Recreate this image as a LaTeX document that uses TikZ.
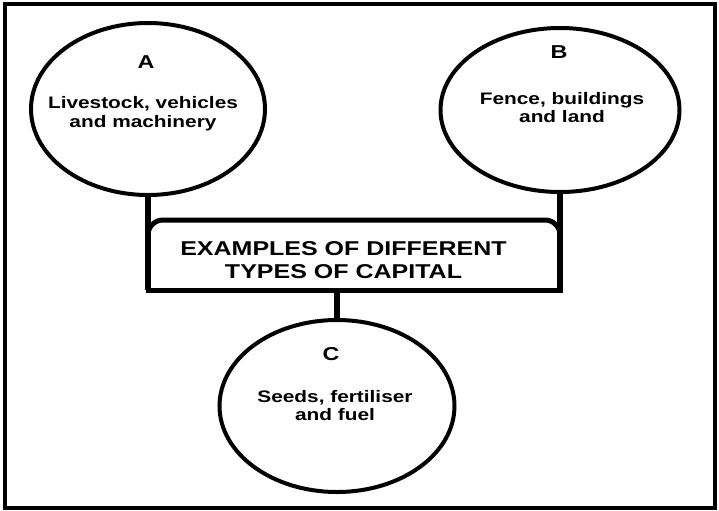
\documentclass[tikz,border=0pt]{standalone}
\usepackage{fontspec}
\setmainfont{Liberation Sans}[FakeStretch=1.25]
\usetikzlibrary{shapes.geometric}

\begin{document}
\begin{tikzpicture}[x=0.75pt,y=-0.75pt,
    capital/.style={draw,ellipse,line width=3pt,inner sep=0pt},
    letter/.style={font=\bfseries\fontsize{14}{16}\selectfont,inner sep=0pt,anchor=base},
    items/.style={font=\bfseries\fontsize{12.5}{14}\selectfont,align=center,inner sep=0pt},
    heading/.style={font=\bfseries\fontsize{15}{17.25}\selectfont,align=center,inner sep=0pt},
    edge/.style={line width=3.75pt},
    link/.style={line width=4.5pt}]
  \useasboundingbox (0,0) rectangle (719,511);
  \draw[line width=3pt] (4.5,3.5) rectangle (714.5,507.5);
  % the three kinds of capital
  \node[capital,minimum width=175.5pt,minimum height=129pt] (A) at (148,109) {};
  \node[capital,minimum width=179.25pt,minimum height=123pt] (B) at (560,110) {};
  \node[capital,minimum width=176.25pt,minimum height=129pt] (C) at (337,406) {};
  \node[letter] (A-l) at (146,68) {A};
  \node[letter] (B-l) at (559,58) {B};
  \node[letter] (C-l) at (331,360) {C};
  \node[items] (A-t) at (143,113.5) {Livestock, vehicles\\and machinery};
  \node[items] (B-t) at (562,107.5) {Fence, buildings\\and land};
  \node[items] (C-t) at (335,405.5) {Seeds, fertiliser\\and fuel};
  % heading box, round at the top only
  \coordinate (T-sw) at (148,290);
  \coordinate (T-ne) at (560,220);
  \draw[edge,rounded corners=11.25pt] (T-sw) |- (T-ne) -- (T-ne |- T-sw);
  \draw[edge,line cap=rect] (T-sw) -- (T-ne |- T-sw);
  \node[heading] (T) at (343.5,260.4) {EXAMPLES OF DIFFERENT\\TYPES OF CAPITAL};
  \draw[link] (A.south) -- (A.south |- T-sw);
  \draw[link] (B.south) -- (B.south |- T-sw);
  \draw[link] (C.north) -- (C.north |- T-sw);
\end{tikzpicture}
\end{document}
